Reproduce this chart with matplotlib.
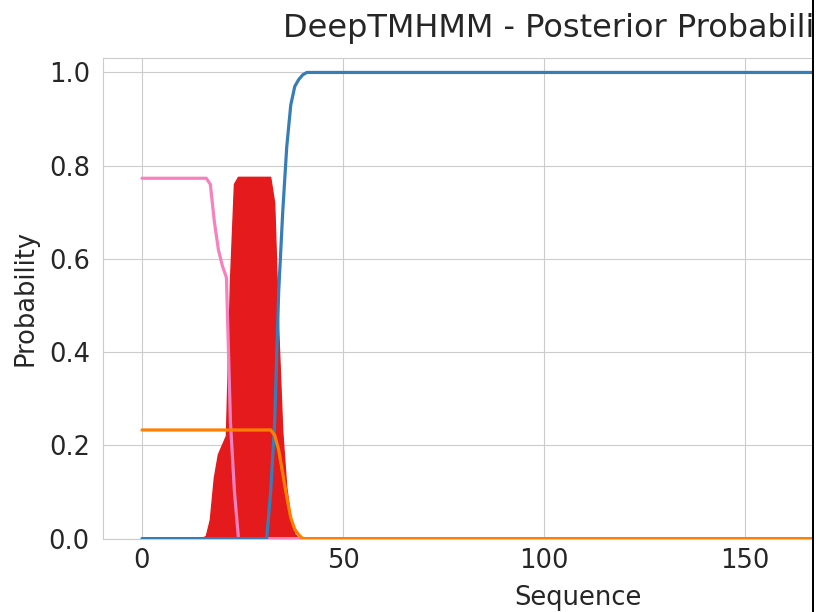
import matplotlib
matplotlib.use("Agg")
import matplotlib.pyplot as plt
from matplotlib.patches import Rectangle
import seaborn as sns
import numpy as np

sns.set_style("whitegrid")
plt.rcParams['font.family'] = ['DejaVu Sans']

seq_len = 217
# Read-off values for the first 42 positions; all later positions are constant
tm_head = [0, 0, 0, 0, 0, 0, 0, 0, 0, 0, 0, 0, 0, 0, 0, 0,
           0.005, 0.04, 0.13, 0.18, 0.2, 0.22, 0.55, 0.76, 0.775, 0.775,
           0.775, 0.775, 0.775, 0.775, 0.775, 0.775, 0.775, 0.72, 0.45, 0.23,
           0.11, 0.045, 0.01, 0, 0, 0]
inside_head = [0.773] * 17 + [0.76, 0.68, 0.62, 0.585, 0.56, 0.25, 0.1, 0] + [0] * 17
outside_head = [0] * 32 + [0.1, 0.25, 0.53, 0.70, 0.84, 0.93, 0.97, 0.985, 0.995, 1.0]
signal_head = [0.233] * 33 + [0.222, 0.19, 0.14, 0.09, 0.045, 0.02, 0.008, 0, 0]

tail = seq_len - 42
tm = np.array(tm_head + [0] * tail)
inside = np.array(inside_head + [0] * tail)
outside = np.array(outside_head + [1.0] * tail)
signal = np.array(signal_head + [0] * tail)
pos = np.arange(seq_len)

c_red, c_blue, c_orange, c_pink = "#e41a1c", "#377eb8", "#ff7f00", "#f781bf"

fig = plt.figure(figsize=(8.23, 6.12), dpi=100)
W, H = 823, 612
ax = fig.add_axes([103 / W, (H - 538.6) / H, (1053 - 103) / W, (538.6 - 58) / H])

ax.fill_between(pos, tm, 0, color=c_red, lw=1.0, zorder=2)
ax.plot(pos, inside, color=c_pink, lw=2.3, zorder=3)
ax.plot(pos, outside, color=c_blue, lw=2.3, zorder=4)
ax.plot(pos, signal, color=c_orange, lw=2.3, zorder=5)

ax.set_xlim(-9.7, 226.6)
ax.set_ylim(0, 1.031)
ax.set_xticks([0, 50, 100, 150, 200])
ax.set_yticks([0.0, 0.2, 0.4, 0.6, 0.8, 1.0])
ax.tick_params(labelsize=18.5, pad=6)
ax.tick_params(axis="x", pad=3)
ax.set_xlabel("Sequence", fontsize=18.5, labelpad=8)
ax.set_ylabel("Probability", fontsize=18.5, labelpad=7)
ax.set_title("DeepTMHMM - Posterior Probabilities", fontsize=23, pad=15)

# cropped right edge of the original picture
fig.patches.append(Rectangle((812 / W, 0), 2 / W, 1, transform=fig.transFigure,
                             facecolor="black", edgecolor="none", zorder=20))
fig.patches.append(Rectangle((814 / W, 0), 9 / W, 1, transform=fig.transFigure,
                             facecolor="white", edgecolor="none", zorder=20))

fig.savefig("out.png", dpi=100)
